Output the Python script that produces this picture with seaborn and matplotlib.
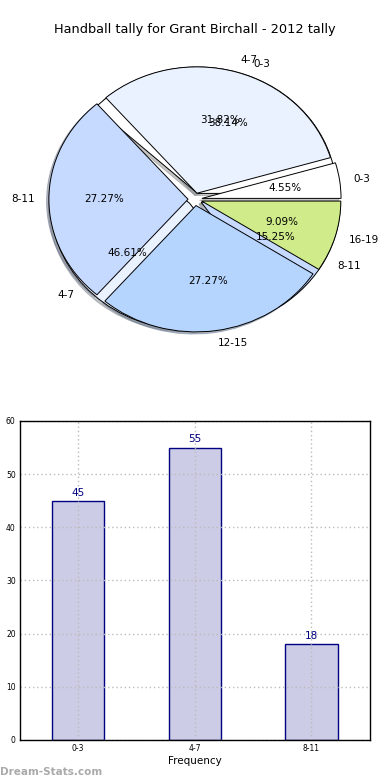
import matplotlib
matplotlib.use("Agg")
import matplotlib.pyplot as plt
import seaborn as sns
import pandas as pd

sns.set_style("white")
plt.rcParams['font.family'] = ['DejaVu Sans']

# Pie 1 (tally by age bracket)
pie1_labels = ["0-3", "4-7", "8-11", "12-15", "16-19"]
pie1_values = [1, 7, 6, 6, 2]
# Pie 2 / bar chart data
bar_labels = ["0-3", "4-7", "8-11"]
bar_values = [45, 55, 18]

pie_colors = ["#FFFFFF", "#EBF2FF", "#C6D9FF", "#B5D5FF", "#D0EB8A"]

fig = plt.figure(figsize=(3.9, 7.8), dpi=100)

# ---- Pie chart ----
ax1 = fig.add_axes([0.054, 0.542, 0.892, 0.405])
wp = dict(edgecolor="black", linewidth=0.7)
tp = dict(fontsize=7.5, color="black")
shadow = dict(ox=-0.012, oy=-0.012, shade=0.45)
ax1.pie(bar_values, labels=bar_labels, colors=pie_colors[:3], autopct="%.2f%%",
        explode=[0.05] * 3, shadow=shadow, startangle=0, wedgeprops=wp,
        textprops=tp)
ax1.pie(pie1_values, labels=pie1_labels, colors=pie_colors, autopct="%.2f%%",
        explode=[0.05] * 5, shadow=shadow, startangle=0, wedgeprops=wp,
        textprops=tp)
ax1.set_aspect("auto")
ax1.set_xlim(-1.25, 1.25)
ax1.set_ylim(-1.25, 1.25)
ax1.set_title("Handball tally for Grant Birchall - 2012 tally", fontsize=9.3,
              color="black", pad=6)

# ---- Bar chart ----
ax2 = fig.add_axes([0.051, 0.0513, 0.897, 0.409])
df = pd.DataFrame({"cat": bar_labels, "val": bar_values})
sns.barplot(data=df, x="cat", y="val", color="#CCCCE6", saturation=1,
            edgecolor="#000080", linewidth=1, width=0.45, ax=ax2)
for i, v in enumerate(bar_values):
    ax2.text(i, v + 0.6, str(v), ha="center", va="bottom", fontsize=7.5,
             color="#000080")
ax2.set_xlim(-0.5, 2.5)
ax2.set_ylim(0, 60)
ax2.set_yticks(range(0, 61, 10))
ax2.set_axisbelow(False)
ax2.grid(True, linestyle=(0, (1, 2)), color="#bbbbbb", linewidth=1)
ax2.tick_params(axis="both", labelsize=5.5, length=0, pad=3, labelcolor="black")
ax2.set_xlabel("Frequency", fontsize=7.5, labelpad=2, color="black")
ax2.set_ylabel("")
for s in ax2.spines.values():
    s.set_color("black")
    s.set_linewidth(1)
    s.set_zorder(5)

fig.text(0.0, 0.004, "Dream-Stats.com", fontsize=7.5, color="#aaaaaa",
         fontweight="bold", ha="left", va="bottom")

fig.savefig("out.png", dpi=100)
